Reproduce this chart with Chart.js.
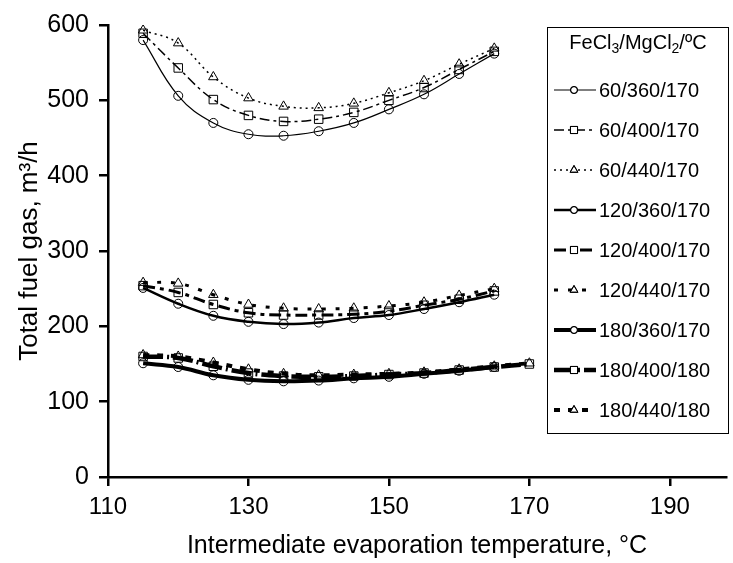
<!DOCTYPE html>
<html>
<head>
<meta charset="utf-8">
<script src="https://cdn.jsdelivr.net/npm/chart.js@4/dist/chart.umd.min.js"></script>
<style>
  html, body { margin: 0; padding: 0; background: #fff; }
  #wrap { width: 733px; height: 563px; }
</style>
</head>
<body>
<div id="wrap"><canvas id="canva" width="733" height="563"></canvas></div>
<script>
// temperaturas intermedias (ºC)
const temps = [115, 120, 125, 130, 135, 140, 145, 150, 155, 160, 165];
const tempsExt = [115, 120, 125, 130, 135, 140, 145, 150, 155, 160, 165, 170];

const etiquetas = [
  "60/360/170", "60/400/170", "60/440/170",
  "120/360/170", "120/400/170", "120/440/170",
  "180/360/170", "180/400/180", "180/440/180"
];

// gas combustible total, m3/h
const s60_360 = [580, 506, 470, 455, 453, 459, 470, 488, 508, 535, 562];
const s60_400 = [589, 543, 501, 480, 472, 475, 484, 500, 517, 541, 565];
const s60_440 = [593, 576, 531, 503, 492, 490, 496, 510, 526, 548, 569];
const s120_360 = [251, 230, 214, 206, 203, 205, 211, 215, 223, 232, 242];
const s120_400 = [254, 245, 229, 218, 215, 215, 216, 220, 228, 236, 247];
const s120_440 = [258, 257, 242, 229, 224, 223, 224, 227, 232, 241, 250];
const s180_360 = [151, 146, 135, 129, 127, 128, 131, 133, 137, 141, 146];
const s180_400 = [160, 158, 147, 138, 134, 133, 134, 136, 138, 142, 146, 150];
const s180_440 = [162, 160, 152, 143, 137, 135, 136, 137, 139, 143, 147, 151];

const xTicks = [110, 130, 150, 170, 190];
const yTicks = [0, 100, 200, 300, 400, 500, 600];

const fuente = "'Liberation Sans', Arial, sans-serif";

function serie(label, xs, ys, estilo, radio, ancho, guion) {
  return {
    label: label,
    data: xs.map((x, i) => ({ x: x, y: ys[i] })),
    borderColor: "#000",
    borderWidth: ancho,
    borderDash: guion,
    backgroundColor: "rgba(0,0,0,0)",
    pointStyle: estilo,
    pointRadius: radio,
    pointBorderColor: "#000",
    pointBorderWidth: 1,
    pointBackgroundColor: "rgba(0,0,0,0)",
    tension: 0.4,
    fill: false
  };
}

const datasets = [
  serie(etiquetas[0], temps, s60_360, "circle", 4.5, 1.2, []),
  serie(etiquetas[1], temps, s60_400, "rect", 6, 1.5, [10, 4, 3, 4]),
  serie(etiquetas[2], temps, s60_440, "triangle", 5.5, 1.5, [2, 4]),
  serie(etiquetas[3], temps, s120_360, "circle", 4.5, 2.5, []),
  serie(etiquetas[4], temps, s120_400, "rect", 6, 3, [12, 5, 4, 5]),
  serie(etiquetas[5], temps, s120_440, "triangle", 5.5, 3, [4, 10]),
  serie(etiquetas[6], temps, s180_360, "circle", 4.5, 4, []),
  serie(etiquetas[7], tempsExt, s180_400, "rect", 6, 4.5, [20, 4, 2, 4]),
  serie(etiquetas[8], tempsExt, s180_440, "triangle", 5.5, 4, [6, 8])
];

// leyenda en recuadro dibujada a mano sobre el área del gráfico
const leyendaCaja = {
  id: "leyendaCaja",
  afterDraw(chart) {
    const ctx = chart.ctx;
    ctx.save();
    ctx.fillStyle = "#fff";
    ctx.fillRect(547, 27, 182, 407);
    ctx.strokeStyle = "#000";
    ctx.lineWidth = 1;
    ctx.setLineDash([]);
    ctx.strokeRect(547.5, 27.5, 181, 406);

    // título con subíndices
    const partes = [["FeCl", 0], ["3", 1], ["/MgCl", 0], ["2", 1], ["/ºC", 0]];
    let total = 0;
    partes.forEach(p => {
      ctx.font = (p[1] ? "14px " : "20px ") + fuente;
      total += ctx.measureText(p[0]).width;
    });
    let x = 638 - total / 2;
    ctx.fillStyle = "#000";
    ctx.textBaseline = "alphabetic";
    partes.forEach(p => {
      ctx.font = (p[1] ? "14px " : "20px ") + fuente;
      ctx.fillText(p[0], x, p[1] ? 53 : 49);
      x += ctx.measureText(p[0]).width;
    });

    chart.data.datasets.forEach((ds, i) => {
      const y = 90 + 40 * i;
      ctx.strokeStyle = "#000";
      ctx.lineWidth = ds.borderWidth;
      ctx.setLineDash(ds.borderDash);
      ctx.beginPath();
      ctx.moveTo(554, y);
      ctx.lineTo(596, y);
      ctx.stroke();
      ctx.setLineDash([]);
      ctx.lineWidth = 1;
      ctx.fillStyle = "#fff";
      Chart.helpers.drawPoint(ctx, { pointStyle: ds.pointStyle, radius: ds.pointRadius - 1, borderWidth: 1 }, 574, y);
      ctx.stroke();
      ctx.fillStyle = "#000";
      ctx.font = "20px " + fuente;
      ctx.textBaseline = "middle";
      ctx.fillText(ds.label, 599, y + 1);
    });
    ctx.restore();
  }
};

const ejeComun = {
  grid: { drawOnChartArea: false, drawTicks: true, tickLength: 9, color: "#000", lineWidth: 2.5 },
  border: { color: "#000", width: 2.5 }
};

new Chart(document.getElementById("canva").getContext("2d"), {
  type: "line",
  data: { datasets: datasets },
  options: {
    responsive: false,
    animation: false,
    layout: { padding: { top: 15, right: 1, left: 0, bottom: 0 } },
    scales: {
      x: {
        ...ejeComun,
        type: "linear",
        min: 110,
        max: 198,
        afterBuildTicks: s => { s.ticks = xTicks.map(v => ({ value: v })); },
        afterFit: s => { s.height = 86; },
        ticks: { color: "#000", font: { size: 24, family: fuente }, padding: 7, maxRotation: 0 },
        title: {
          display: true,
          text: "Intermediate evaporation temperature, °C",
          color: "#000",
          font: { size: 25, family: fuente },
          padding: { top: 0, bottom: 2 }
        }
      },
      y: {
        ...ejeComun,
        min: 0,
        max: 600,
        afterBuildTicks: s => { s.ticks = yTicks.map(v => ({ value: v })); },
        afterFit: s => { s.width = 108; },
        ticks: { color: "#000", font: { size: 25, family: fuente }, padding: 10 },
        title: {
          display: true,
          text: "Total fuel gas, m³/h",
          color: "#000",
          font: { size: 26, family: fuente },
          padding: { top: 14, bottom: 0 }
        }
      }
    },
    plugins: {
      legend: { display: false },
      tooltip: { enabled: false }
    }
  },
  plugins: [leyendaCaja]
});
</script>
</body>
</html>
